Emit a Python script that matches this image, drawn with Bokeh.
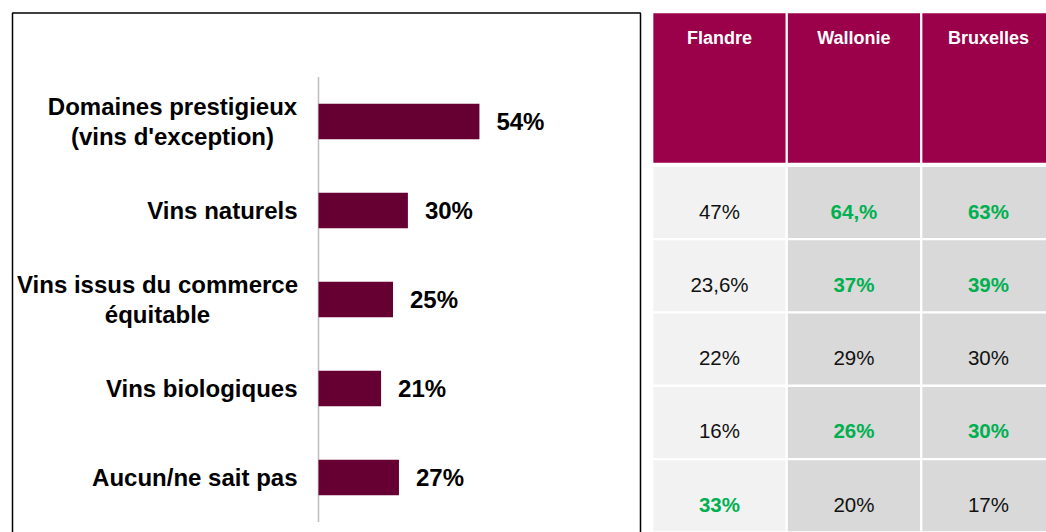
from bokeh.plotting import figure
from bokeh.layouts import row
from bokeh.models import Range1d, ColumnDataSource
from bokeh.core.properties import value
from bokeh.embed import file_html
from bokeh.resources import INLINE

# ---------------- data ----------------
categories = [
    "Domaines prestigieux\n(vins d'exception)",
    "Vins naturels",
    "Vins issus du commerce\néquitable",
    "Vins biologiques",
    "Aucun/ne sait pas",
]
totals = [54, 30, 25, 21, 27]

regions = ["Flandre", "Wallonie", "Bruxelles"]
flandre = ["47%", "23,6%", "22%", "16%", "33%"]
wallonie = ["64,%", "37%", "29%", "26%", "20%"]
bruxelles = ["63%", "39%", "30%", "30%", "17%"]
flandre_hi = [False, False, False, False, True]
wallonie_hi = [True, True, False, True, False]
bruxelles_hi = [True, True, False, True, False]

# ---------------- style ----------------
FONT = "Liberation Sans"
BAR = "#660033"
HEAD = "#9B004A"
GREEN = "#00B050"
CELL_BG = ["#F2F2F2", "#D9D9D9", "#D9D9D9"]
MULTI_OFFSET = {0: -146, 2: -161}   # px offsets for centred multi-line labels
LABEL_SIZE = "24px"

# left panel geometry (pixels)
W1, H = 642, 532
ZERO_PX, PX_PER_PCT = 318, 2.98
ROW0_PX, ROW_PX = 121, 89


def lx(px):
    return (px - ZERO_PX) / PX_PER_PCT


def ly(px):
    return (px - ROW0_PX) / ROW_PX


# ---------------- left panel: bar chart ----------------
n = len(categories)
rows_idx = list(range(n))

p1 = figure(width=W1, height=H, output_backend="svg", toolbar_location=None,
            x_range=Range1d(lx(0), lx(W1)), y_range=Range1d(ly(H), ly(0)),
            x_axis_location=None, y_axis_location=None,
            min_border_left=0, min_border_right=0, min_border_top=0, min_border_bottom=0,
            outline_line_color=None)
p1.grid.visible = False

# panel frame (open at the bottom, as in the original)
p1.line(x=[lx(12), lx(12), lx(640), lx(640)], y=[ly(H + 10), ly(12.5), ly(12.5), ly(H + 10)],
        line_color="black", line_width=1.5)

bars = ColumnDataSource(dict(y=rows_idx, v=totals, lab=[f"{t}%" for t in totals]))
p1.segment(x0=0, y0=-0.5, x1=0, y1=n - 0.5, line_color="#C0BDBD", line_width=1.5)
p1.hbar(y="y", left=0, right="v", height=0.4, source=bars,
        fill_color=BAR, line_color=None)
p1.text(x="v", y="y", text="lab", source=bars, x_offset=17,
        text_align="left", text_baseline="middle",
        text_font=value(FONT), text_font_style="bold", text_font_size=LABEL_SIZE,
        text_color="black")

single = [i for i in rows_idx if "\n" not in categories[i]]
multi = [i for i in rows_idx if "\n" in categories[i]]
p1.text(x=[0] * len(single), y=single, text=[categories[i] for i in single],
        x_offset=-21, text_align="right", text_baseline="middle",
        text_font=value(FONT), text_font_style="bold", text_font_size=LABEL_SIZE,
        text_color="black")
for i in multi:
    p1.text(x=[0], y=[i], text=[categories[i]], x_offset=MULTI_OFFSET[i],
            text_align="center", text_baseline="middle", text_line_height=1.08,
            text_font=value(FONT), text_font_style="bold", text_font_size=LABEL_SIZE,
            text_color="black")

# ---------------- right panel: table ----------------
W2 = 1046 - W1
COL0_PX, COL_PX = 651.7 - W1, 134.5
TROW0_PX, TROW_PX = 202, 73.3


def tx(px):
    return (px - COL0_PX) / COL_PX


def ty(px):
    return (px - TROW0_PX) / TROW_PX


p2 = figure(width=W2, height=H, output_backend="svg", toolbar_location=None,
            x_range=Range1d(tx(0), tx(W2)), y_range=Range1d(ty(H), ty(0)),
            x_axis_location=None, y_axis_location=None,
            min_border_left=0, min_border_right=0, min_border_top=0, min_border_bottom=0,
            outline_line_color=None)
p2.grid.visible = False

g = 0.0085
ncol = len(regions)
p2.quad(left=[k + g for k in range(ncol)], right=[k + 1 - g for k in range(ncol)],
        top=[ty(12.7)] * ncol, bottom=[ty(162.3)] * ncol,
        fill_color=HEAD, line_color=None)
p2.text(x=[k + 0.5 for k in range(ncol)], y=[ty(37)] * ncol, text=regions,
        text_align="center", text_baseline="middle",
        text_font=value(FONT), text_font_style="bold", text_font_size="18px",
        text_color="white")

cols = [flandre, wallonie, bruxelles]
his = [flandre_hi, wallonie_hi, bruxelles_hi]
for k in range(ncol):
    p2.quad(left=[k + g] * n, right=[k + 1 - g] * n,
            top=[r - 0.4845 for r in rows_idx], bottom=[r + 0.4845 for r in rows_idx],
            fill_color=CELL_BG[k], line_color=None)
    plain = [r for r in rows_idx if not his[k][r]]
    hot = [r for r in rows_idx if his[k][r]]
    p2.text(x=[k + 0.5] * len(plain), y=plain, text=[cols[k][r] for r in plain],
            y_offset=8.5, text_align="center", text_baseline="middle",
            text_font=value(FONT), text_font_size="20.5px", text_color="#111111")
    p2.text(x=[k + 0.5] * len(hot), y=hot, text=[cols[k][r] for r in hot],
            y_offset=8.5, text_align="center", text_baseline="middle",
            text_font=value(FONT), text_font_style="bold", text_font_size="20.5px",
            text_color=GREEN)

layout = row(p1, p2)
open("out.html", "w").write(file_html(layout, INLINE))
